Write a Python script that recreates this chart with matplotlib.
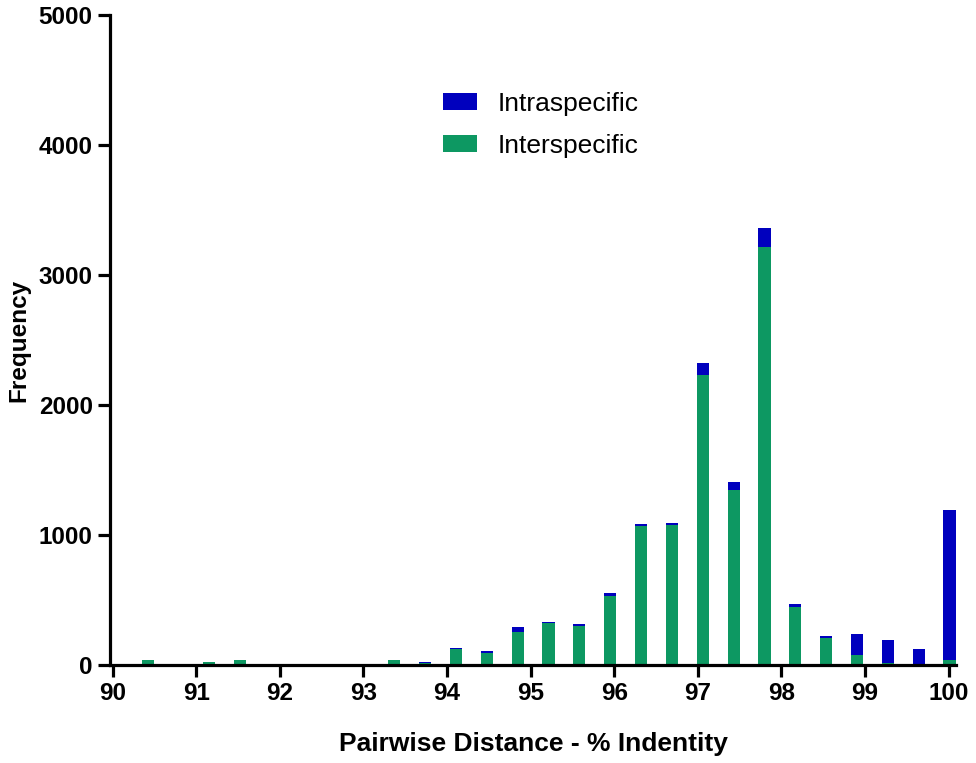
import matplotlib.pyplot as plt
import numpy as np

# histogram bins of pairwise identity (%), 27 bins between ~90.4 and 100
bin_centers = np.linspace(90.42, 100.01, 27)

interspecific = [40, 0, 20, 35, 0, 0, 0, 0, 38, 12,
                 125, 95, 252, 323, 303, 529, 1072, 1080, 2228, 1350,
                 3216, 447, 206, 77, 12, 2, 42]
intraspecific = [0, 0, 0, 0, 0, 0, 0, 0, 0, 8,
                 5, 15, 38, 5, 10, 23, 11, 11, 95, 54,
                 149, 25, 17, 159, 183, 123, 1150]

y_ticks = [0, 1000, 2000, 3000, 4000, 5000]
x_ticks = list(range(90, 101))

GREEN = "#0D9862"
BLUE = "#0000BE"

plt.rcParams["font.family"] = ["Liberation Sans", "DejaVu Sans"]

fig = plt.figure(figsize=(9.76, 7.63), dpi=100)
ax = fig.add_axes([0.1127, 0.1284, 0.867, 0.852])

width = 0.145
inter = np.array(interspecific)
intra = np.array(intraspecific)
ax.bar(bin_centers, inter, width=width, color=GREEN, linewidth=0,
       label="Interspecific", zorder=2)
ax.bar(bin_centers, intra, bottom=inter, width=width, color=BLUE,
       linewidth=0, label="Intraspecific", zorder=2)

ax.set_xlim(89.97, 100.09)
ax.set_ylim(0, 5000)
ax.set_xticks(x_ticks)
ax.set_yticks(y_ticks)
ax.tick_params(axis="both", length=8.5, width=2.3, labelsize=17.5, pad=4)
for lab in ax.get_xticklabels() + ax.get_yticklabels():
    lab.set_fontweight("bold")

for side in ("top", "right"):
    ax.spines[side].set_visible(False)
for side in ("left", "bottom"):
    ax.spines[side].set_linewidth(2.3)

ax.set_xlabel("Pairwise Distance - % Indentity", fontsize=19,
              fontweight="bold", labelpad=19)
ax.set_ylabel("Frequency", fontsize=17.5, fontweight="bold", labelpad=6)

handles, labels = ax.get_legend_handles_labels()
leg = ax.legend(handles[::-1], labels[::-1], loc="upper left",
                bbox_to_anchor=(0.365, 0.918), frameon=False, fontsize=19,
                handlelength=1.29, handleheight=0.64, handletextpad=0.78,
                labelspacing=0.68)

fig.savefig("out.png", dpi=100)
